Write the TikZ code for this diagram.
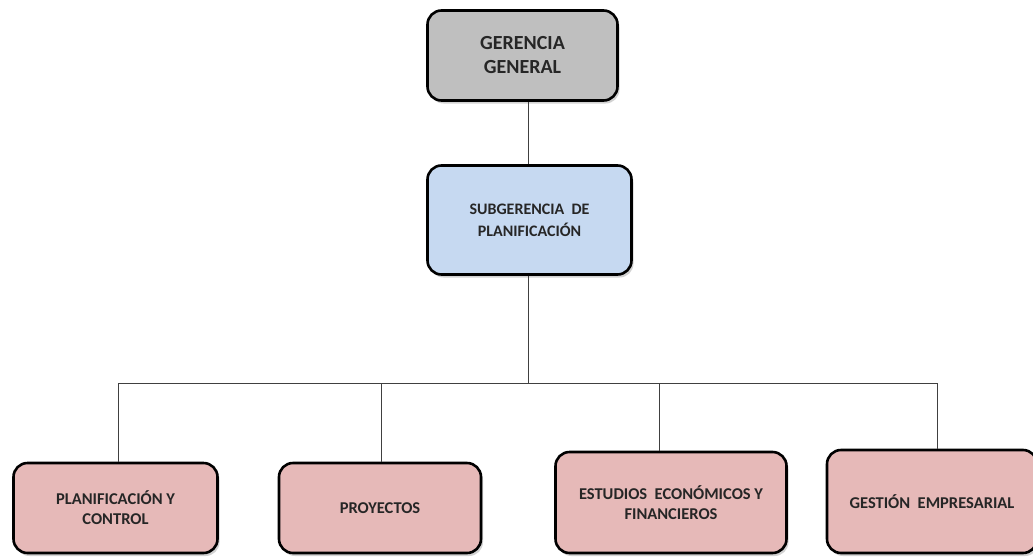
\documentclass[tikz,border=0pt]{standalone}
\usepackage{fontspec}
\setmainfont{Carlito}
\usetikzlibrary{shadows}
\definecolor{topgray}{HTML}{BFBFBF}
\definecolor{midblue}{HTML}{C6D9F1}
\definecolor{lowpink}{HTML}{E6B9B8}
\definecolor{linegray}{HTML}{404040}
\tikzset{
  orgbox/.style={draw=black, line width=2.6pt, rounded corners=14pt, align=center,
    font=\bfseries, text=black!85, inner sep=0pt,
    drop shadow={shadow xshift=2pt, shadow yshift=-3pt, fill=black!35, opacity=0.5}},
  lowfont/.style={font=\bfseries\fontsize{16.5}{20}\selectfont},
  link/.style={draw=linegray, line width=1pt}
}
\begin{document}
\begin{tikzpicture}[x=1pt,y=-1pt]
\useasboundingbox (0,0) rectangle (1033,557);
\node[orgbox, fill=topgray, minimum width=190pt, minimum height=90pt, font=\bfseries\fontsize{20}{24}\selectfont] (gg) at (522.5,55.5) {GERENCIA\\GENERAL};
\node[orgbox, fill=midblue, minimum width=204pt, minimum height=109pt, font=\bfseries\fontsize{16}{22}\selectfont] (sp) at (529.5,220) {SUBGERENCIA\ \ DE\\PLANIFICACIÓN};
\node[orgbox, fill=lowpink, minimum width=204pt, minimum height=90pt, lowfont] (pc) at (115.5,508) {PLANIFICACIÓN Y\\CONTROL};
\node[orgbox, fill=lowpink, minimum width=202pt, minimum height=90pt, lowfont] (pr) at (380,508) {PROYECTOS};
\node[orgbox, fill=lowpink, minimum width=231pt, minimum height=101pt, lowfont] (ee) at (671,502.5) {ESTUDIOS\ \ ECONÓMICOS Y\\FINANCIEROS};
\node[orgbox, fill=lowpink, minimum width=210pt, minimum height=103pt, lowfont] (ge) at (932,501.5) {GESTIÓN\ \ EMPRESARIAL};
\coordinate (bus) at (528,383);
\coordinate (busL) at (118,383);
\coordinate (busR) at (937,383);
\draw[link] (gg.south -| 528,0) -- (sp.north -| 528,0);
\draw[link] (sp.south -| 528,0) -- (bus);
\draw[link] (busL) -- (busR);
\draw[link] (busL) -- (pc.north -| busL);
\draw[link] (381,383) -- (pr.north -| 381,0);
\draw[link] (659,383) -- (ee.north -| 659,0);
\draw[link] (busR) -- (ge.north -| busR);
\end{tikzpicture}
\end{document}
